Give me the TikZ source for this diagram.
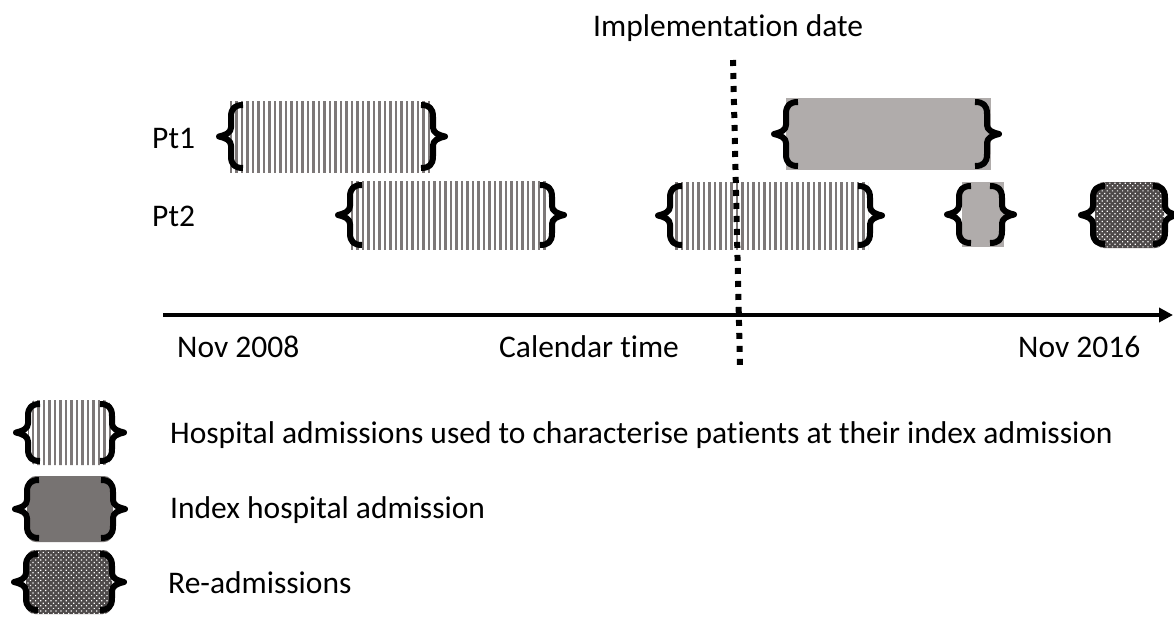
\documentclass[tikz,border=0pt]{standalone}
\usepackage{fontspec}
\setmainfont{Carlito}[Ligatures={NoCommon}]
\usetikzlibrary{arrows.meta,patterns.meta}
\definecolor{stripegray}{RGB}{125,120,120}
\definecolor{idxlight}{RGB}{176,172,171}
\definecolor{idxdark}{RGB}{119,115,114}
\definecolor{hatchbase}{RGB}{78,74,74}
\tikzset{
  txt/.style={font=\fontsize{31.5pt}{37pt}\selectfont, inner sep=0pt, anchor=base west},
  boxbase/.style={draw=none, inner sep=0pt, outer sep=0pt},
  stripebox/.style={boxbase, pattern={Lines[angle=90,distance=5.5pt,line width=2.5pt]}, pattern color=stripegray},
  idxbox/.style={boxbase, fill=idxlight},
  idxlegbox/.style={boxbase, fill=idxdark, rounded corners=9pt},
  hatchbox/.style={boxbase, rounded corners=9pt, preaction={fill=hatchbase}, pattern={Dots[angle=45,distance=3.6pt,radius=0.85pt]}, pattern color=white},
  bracestyle/.style={draw=black, line width=6pt, line cap=butt, line join=round},
  axisline/.style={line width=4pt, -{Triangle[length=14pt,width=14pt]}},
  implline/.style={line width=6pt, dash pattern=on 6pt off 7pt}
}
% #1 anchor, #2 half height, #3 sign (1 = left brace, -1 = right brace), #4 x shift
\newcommand{\mybrace}[4]{%
  \begin{scope}[shift={(#1)}, xshift=#4pt, xscale=#3]
    \pgfmathsetmacro\bhh{#2-4}
    \draw[bracestyle] (12,-\bhh) .. controls (4,-\bhh) and (0,{-\bhh+3}) .. (0,{-\bhh+12})
      -- (0,-9) .. controls (0,-4) and (-5,-1.5) .. (-12,0)
      .. controls (-5,1.5) and (0,4) .. (0,9)
      -- (0,{\bhh-12}) .. controls (0,{\bhh-3}) and (4,\bhh) .. (12,\bhh);
  \end{scope}}
\begin{document}
\begin{tikzpicture}[x=1pt,y=-1pt]
\useasboundingbox (0,0) rectangle (1174,616);
% admission boxes
\node[stripebox, minimum width=202pt, minimum height=71pt] (p1h) at (331,136.5) {};
\node[idxbox, minimum width=205pt, minimum height=72pt] (p1i) at (888.5,134) {};
\node[stripebox, minimum width=197pt, minimum height=68pt] (p2ha) at (449.5,215) {};
\node[stripebox, minimum width=196pt, minimum height=67pt] (p2hb) at (770,215.5) {};
\node[idxbox, minimum width=42pt, minimum height=65pt] (p2i) at (983,214.5) {};
\node[hatchbox, minimum width=69pt, minimum height=66pt] (p2r) at (1129.5,215) {};
% braces
\mybrace{p1h.west}{35.5}{1}{1}
\mybrace{p1h.east}{35.5}{-1}{1}
\mybrace{p1i.west}{36}{1}{0}
\mybrace{p1i.east}{36}{-1}{-4}
\mybrace{p2ha.west}{34}{1}{-1}
\mybrace{p2ha.east}{34}{-1}{4}
\mybrace{p2hb.west}{33.5}{1}{-2}
\mybrace{p2hb.east}{33.5}{-1}{2}
\mybrace{p2i.west}{32.5}{1}{-3}
\mybrace{p2i.east}{32.5}{-1}{-2}
\mybrace{p2r.west}{33}{1}{-2}
\mybrace{p2r.east}{33}{-1}{1}
% axis
\coordinate (ax0) at (163,315);
\coordinate (ax1) at (1173,315);
\draw[axisline] (ax0) -- (ax1);
% implementation date line
\coordinate (dtop) at (733,60);
\coordinate (dbot) at (740,367);
\draw[implline] (dtop) -- (dbot);
% labels
\node[txt] (impl) at (593,36) {Implementation date};
\node[txt] (pt1) at (152,148) {Pt1};
\node[txt] (pt2) at (152,226) {Pt2};
\node[txt] (nov08) at (177,357) {Nov 2008};
\node[txt] (cal) at (499,357) {Calendar time};
\node[txt] (nov16) at (1018,357) {Nov 2016};
% legend
\node[stripebox, rounded corners=9pt, minimum width=84pt, minimum height=65pt] (lg1) at (70,432.5) {};
\node[idxlegbox, minimum width=86pt, minimum height=66pt] (lg2) at (70,509) {};
\node[hatchbox, minimum width=86pt, minimum height=64pt] (lg3) at (69,582) {};
\mybrace{lg1.west}{32.5}{1}{0}
\mybrace{lg1.east}{32.5}{-1}{0}
\mybrace{lg2.west}{33}{1}{0}
\mybrace{lg2.east}{33}{-1}{0}
\mybrace{lg3.west}{32}{1}{0}
\mybrace{lg3.east}{32}{-1}{0}
\node[txt] (leg1) at (170,443) {Hospital admissions used to characterise patients at their index admission};
\node[txt] (leg2) at (170,518) {Index hospital admission};
\node[txt] (leg3) at (168,593) {Re-admissions};
\end{tikzpicture}
\end{document}
